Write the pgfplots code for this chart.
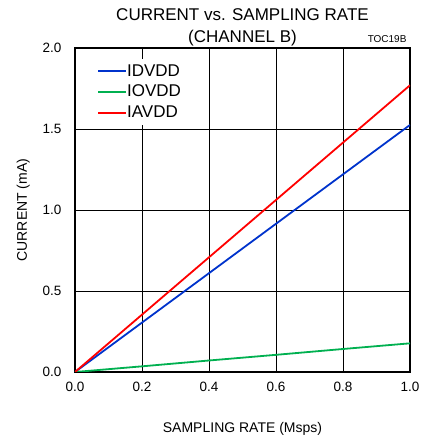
\documentclass[border=0pt]{standalone}
\usepackage{pgfplots}
\pgfplotsset{compat=1.18}
\usepackage{fontspec}
\setmainfont{Liberation Sans}
\definecolor{cblue}{RGB}{0,51,204}
\definecolor{cgreen}{RGB}{0,176,80}
\definecolor{cred}{RGB}{255,0,0}
\begin{document}
\begin{tikzpicture}[x=1pt,y=1pt]
\begin{axis}[
  name=ax, at={(0,0)}, anchor=south west,
  scale only axis, width=335pt, height=324pt,
  xmin=0, xmax=1, ymin=0, ymax=2,
  xtick={0,0.2,...,1.0}, ytick={0,0.5,...,2.0},
  /pgf/number format/.cd, fixed, fixed zerofill, precision=1, assume math mode=true, /pgfplots/.cd,
  grid=major, major grid style={black, line width=0.8pt},
  major tick length=0pt,
  axis line style={line width=2.2pt},
  ticklabel style={font=\fontsize{13.5}{15}\selectfont},
  xticklabel style={yshift=-7pt},
  yticklabel style={xshift=-10pt},
  xlabel={SAMPLING RATE (Msps)}, ylabel={CURRENT (mA)},
  label style={font=\fontsize{14}{16}\selectfont},
  xlabel style={yshift=-23pt},
  ylabel style={yshift=6pt},
  legend style={at={(0.055,0.967)}, anchor=north west, draw=none, fill=white,
    font=\fontsize{17}{19}\selectfont, nodes={font=\fontsize{17}{19}\selectfont, inner sep=1.5pt}, row sep=4.5pt, inner sep=4pt},
  legend cell align=left,
  legend image code/.code={\path[#1, draw=none, fill] (0pt,-1pt) rectangle (28pt,1pt);},
]
\addplot[color=cblue, line width=1.8pt] coordinates {(0,0) (0.2,0.305) (0.4,0.61) (0.6,0.915) (0.8,1.22) (1.0,1.525)};
\addlegendentry{IDVDD}
\addplot[color=cgreen, line width=1.8pt] coordinates {(0,0) (0.2,0.035) (0.4,0.071) (0.6,0.106) (0.8,0.142) (1.0,0.177)};
\addlegendentry{IOVDD}
\addplot[color=cred, line width=1.8pt] coordinates {(0,0) (0.2,0.354) (0.4,0.708) (0.6,1.062) (0.8,1.416) (1.0,1.77)};
\addlegendentry{IAVDD}
\end{axis}
\node[font=\fontsize{17}{22}\selectfont, align=center] at (167.5, 324+21) {CURRENT vs. SAMPLING RATE\\(CHANNEL B)};
\node[font=\fontsize{10}{12}\selectfont, anchor=base east] at (335, 324+5) {TOC19B};
\pgfresetboundingbox
\useasboundingbox (-75,-66) rectangle (349,372);
\end{tikzpicture}
\end{document}
